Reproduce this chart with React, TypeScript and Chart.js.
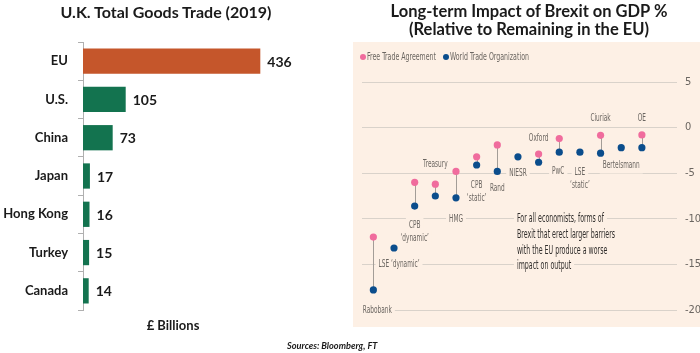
import React, { useEffect, useRef } from "react";
import { Chart, registerables } from "chart.js";

Chart.register(...registerables);

// ---------- Left chart data ----------
const tradeCategories = ["EU", "U.S.", "China", "Japan", "Hong Kong", "Turkey", "Canada"];
const tradeValues = [436, 105, 73, 17, 16, 15, 14];

// ---------- Right chart data ----------
const economists = [
  "Rabobank",
  "LSE \u2018dynamic\u2019",
  "CPB\n\u2018dynamic\u2019",
  "Treasury",
  "HMG",
  "CPB\n\u2018static\u2019",
  "Rand",
  "NIESR",
  "Oxford",
  "PwC",
  "LSE\n\u2018static\u2019",
  "Ciuriak",
  "Bertelsmann",
  "OE",
];
const ftaImpact: (number | null)[] = [-12, null, -6, -6.2, -4.8, -3.2, -1.9, null, -2.9, -1.2, null, -0.85, null, -0.8];
const wtoImpact: (number | null)[] = [-17.8, -13.2, -8.6, -7.5, -7.7, -4.1, -4.8, -3.2, -3.8, -2.7, -2.7, -2.8, -2.2, -2.2];
const gdpTicks = [5, 0, -5, -10, -15, -20];
const legendLabels = ["Free Trade Agreement", "World Trade Organization"];
const noteLines = [
  "For all economists, forms of",
  "Brexit that erect larger barriers",
  "with the EU produce a worse",
  "impact on output",
];

// label placement (style/layout): pixel x-offset and y anchor in axis units
const labelPlacement = [
  { dx: 4, y: -20 },
  { dx: 5, y: -15 },
  { dx: 0, y: -10.7 },
  { dx: 0, y: -4.0 },
  { dx: 0, y: -10 },
  { dx: 0, y: -6.3 },
  { dx: 0, y: -6.6 },
  { dx: 0, y: -5 },
  { dx: 0, y: -1.2 },
  { dx: -1, y: -4.8 },
  { dx: 0, y: -4.9 },
  { dx: 0, y: 1 },
  { dx: 0, y: -4.1 },
  { dx: 0, y: 1 },
];

const PANEL_BG = "#fdf0e5";
const PINK = "#f06c9d";
const BLUE = "#0b4d8c";
const NARROW = "'Liberation Sans Narrow', 'DejaVu Sans Condensed', 'Roboto', sans-serif";
const BOLD_FONT = "Lato, 'Open Sans', sans-serif";

function drawText(
  ctx: CanvasRenderingContext2D,
  text: string,
  x: number,
  y: number,
  size: number,
  color: string,
  align: "left" | "center" | "right",
  sx: number,
  bg?: string
) {
  ctx.save();
  ctx.font = `${size}px ${NARROW}`;
  const w = ctx.measureText(text).width * sx;
  const left = align === "center" ? x - w / 2 : align === "left" ? x : x - w;
  if (bg) {
    ctx.fillStyle = bg;
    ctx.fillRect(left - 3, y - size * 0.5 - 3, w + 6, size + 6);
  }
  ctx.translate(left, y);
  ctx.scale(sx, 1);
  ctx.fillStyle = color;
  ctx.textAlign = "left";
  ctx.textBaseline = "middle";
  ctx.fillText(text, 0, 0);
  ctx.restore();
}

function fitScale(ctx: CanvasRenderingContext2D, text: string, size: number, target: number) {
  ctx.save();
  ctx.font = `${size}px ${NARROW}`;
  const w = ctx.measureText(text).width;
  ctx.restore();
  return w > 0 ? target / w : 1;
}

function TradeChart() {
  const ref = useRef<HTMLCanvasElement>(null);
  useEffect(() => {
    if (!ref.current) return;
    const valueLabels = {
      id: "valueLabels",
      afterDatasetsDraw(chart: any) {
        const ctx = chart.ctx;
        const meta = chart.getDatasetMeta(0);
        ctx.save();
        ctx.font = `bold 14px ${BOLD_FONT}`;
        ctx.fillStyle = "#1a1a1a";
        ctx.textAlign = "left";
        ctx.textBaseline = "middle";
        meta.data.forEach((bar: any, i: number) => {
          ctx.fillText(String(tradeValues[i]), bar.x + 7, bar.y + 1);
        });
        ctx.restore();
      },
    };
    const chart = new Chart(ref.current, {
      type: "bar",
      data: {
        labels: tradeCategories,
        datasets: [
          {
            data: tradeValues,
            backgroundColor: tradeValues.map((_, i) => (i === 0 ? "#c5562b" : "#13734f")),
            barPercentage: 0.66,
            categoryPercentage: 1,
          },
        ],
      },
      options: {
        indexAxis: "y",
        responsive: false,
        animation: false,
        layout: { padding: { top: 42, bottom: 43, right: 18, left: 0 } },
        plugins: { legend: { display: false }, tooltip: { enabled: false }, title: { display: false } },
        scales: {
          x: { display: false, min: 0, max: 600 },
          y: {
            afterFit(scale: any) {
              scale.width = 83;
            },
            grid: { offset: true, drawOnChartArea: false, tickLength: 5, color: "#b0b0b0" },
            border: { color: "#b0b0b0", width: 1 },
            ticks: { color: "#1a1a1a", padding: 10, font: { family: BOLD_FONT, size: 13, weight: "bold" } },
          },
        },
      },
      plugins: [valueLabels],
    } as any);
    return () => chart.destroy();
  }, []);
  return <canvas ref={ref} width={345} height={353} style={{ position: "absolute", left: 0, top: 0 }} />;
}

function ImpactChart() {
  const ref = useRef<HTMLCanvasElement>(null);
  useEffect(() => {
    if (!ref.current) return;
    const panel = {
      id: "panel",
      beforeDraw(chart: any) {
        const ctx = chart.ctx;
        ctx.save();
        ctx.fillStyle = PANEL_BG;
        ctx.fillRect(8, 42, chart.width - 8, 285);
        ctx.restore();
      },
    };
    const annotations = {
      id: "annotations",
      beforeDatasetsDraw(chart: any) {
        const ctx = chart.ctx;
        const xs = chart.scales.x;
        const ys = chart.scales.y;
        const sxLabel = fitScale(ctx, "Bertelsmann", 11, 37);
        const sxNote = fitScale(ctx, noteLines[0], 12, 87);
        // economist labels
        economists.forEach((name, i) => {
          const p = labelPlacement[i];
          const x = xs.getPixelForValue(i) + p.dx;
          const y0 = ys.getPixelForValue(p.y);
          name.split("\n").forEach((line, k) => {
            drawText(ctx, line, x, y0 + k * 13, 11, "#6b6661", "center", sxLabel, PANEL_BG);
          });
        });
        // note text
        const nx = xs.getPixelForValue(6.95);
        const ny = ys.getPixelForValue(-10);
        noteLines.forEach((line, k) => {
          drawText(ctx, line, nx, ny + k * 15.8, 12, "#33302e", "left", sxNote, PANEL_BG);
        });
        // connectors
        ctx.save();
        ctx.strokeStyle = "#a39d97";
        ctx.lineWidth = 1;
        economists.forEach((_, i) => {
          const a = ftaImpact[i];
          const b = wtoImpact[i];
          if (a == null || b == null) return;
          const x = Math.round(xs.getPixelForValue(i)) + 0.5;
          ctx.beginPath();
          ctx.moveTo(x, ys.getPixelForValue(a));
          ctx.lineTo(x, ys.getPixelForValue(b));
          ctx.stroke();
        });
        ctx.restore();
      },
      afterDraw(chart: any) {
        const ctx = chart.ctx;
        const sxLabel = fitScale(ctx, "Free Trade Agreement", 10.5, 69);
        const y = 57;
        ctx.save();
        ctx.fillStyle = PINK;
        ctx.beginPath();
        ctx.arc(18, y, 3, 0, Math.PI * 2);
        ctx.fill();
        ctx.restore();
        drawText(ctx, legendLabels[0], 22, y, 10.5, "#6b6661", "left", sxLabel);
        ctx.save();
        ctx.fillStyle = BLUE;
        ctx.beginPath();
        ctx.arc(101, y, 3, 0, Math.PI * 2);
        ctx.fill();
        ctx.restore();
        drawText(ctx, legendLabels[1], 105, y, 10.5, "#6b6661", "left", sxLabel);
      },
    };
    const chart = new Chart(ref.current, {
      type: "scatter",
      data: {
        datasets: [
          {
            label: legendLabels[0],
            data: economists
              .map((_, i) => (ftaImpact[i] == null ? null : { x: i, y: ftaImpact[i] }))
              .filter((d) => d !== null),
            backgroundColor: PINK,
            borderColor: PINK,
            pointRadius: 3.6,
            borderWidth: 0,
          },
          {
            label: legendLabels[1],
            data: economists
              .map((_, i) => (wtoImpact[i] == null ? null : { x: i, y: wtoImpact[i] }))
              .filter((d) => d !== null),
            backgroundColor: BLUE,
            borderColor: BLUE,
            pointRadius: 3.6,
            borderWidth: 0,
          },
        ],
      },
      options: {
        responsive: false,
        animation: false,
        layout: { padding: { top: 82, bottom: 43, left: 17, right: 0 } },
        plugins: { legend: { display: false }, tooltip: { enabled: false } },
        scales: {
          x: { type: "linear", display: false, min: -0.55, max: 14.7 },
          y: {
            type: "linear",
            position: "right",
            min: -20,
            max: 5,
            afterFit(scale: any) {
              scale.width = 23;
            },
            afterBuildTicks(scale: any) {
              scale.ticks = gdpTicks.map((v) => ({ value: v }));
            },
            grid: { color: "#d9d2ca", drawTicks: false, lineWidth: 1 },
            border: { display: false },
            ticks: {
              padding: 8,
              color: "#6b6661",
              font: { family: NARROW, size: 11 },
              callback: (v: any) => String(v),
            },
          },
        },
      },
      plugins: [panel, annotations],
    } as any);
    return () => chart.destroy();
  }, []);
  return <canvas ref={ref} width={355} height={353} style={{ position: "absolute", left: 345, top: 0 }} />;
}

export default function App() {
  const bold: React.CSSProperties = {
    position: "absolute",
    fontFamily: BOLD_FONT,
    fontWeight: "bold",
    color: "#1a1a1a",
    textAlign: "center",
    whiteSpace: "nowrap",
  };
  return (
    <div
      style={{
        position: "absolute",
        left: 0,
        top: 0,
        width: 700,
        height: 353,
        background: "#ffffff",
        overflow: "hidden",
      }}
    >
      <TradeChart />
      <ImpactChart />
      <div style={{ ...bold, left: 0, width: 332, top: 2, fontSize: 16, lineHeight: "20px" }}>
        U.K. Total Goods Trade (2019)
      </div>
      <div style={{ ...bold, left: 369, width: 320, top: 2, fontSize: 16.5, lineHeight: "18px" }}>
        Long-term Impact of Brexit on GDP %
        <br />
        (Relative to Remaining in the EU)
      </div>
      <div style={{ ...bold, left: 113, width: 120, top: 317, fontSize: 13, lineHeight: "16px" }}>
        £ Billions
      </div>
      <div
        style={{
          ...bold,
          left: 287,
          top: 339,
          textAlign: "left",
          fontSize: 9.2,
          fontStyle: "italic",
          lineHeight: "13px",
        }}
      >
        Sources: Bloomberg, FT
      </div>
    </div>
  );
}
